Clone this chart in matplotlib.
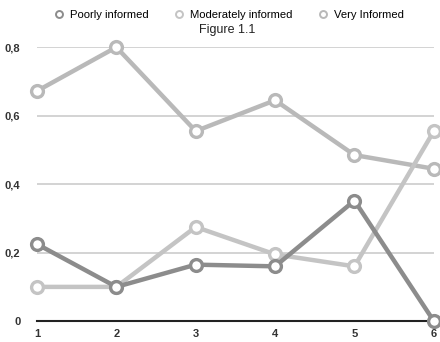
import matplotlib.pyplot as plt
from matplotlib.lines import Line2D

# data
x = [1, 2, 3, 4, 5, 6]
poorly = [0.225, 0.10, 0.165, 0.16, 0.352, 0.0]
moderately = [0.10, 0.10, 0.275, 0.195, 0.16, 0.555]
very = [0.672, 0.80, 0.555, 0.645, 0.485, 0.445]
labels = ["Poorly informed", "Moderately informed", "Very Informed"]
colors = ["#8c8c8c", "#c4c4c4", "#b9b9b9"]

plt.rcParams['font.family'] = ['Liberation Sans', 'DejaVu Sans']

fig = plt.figure(figsize=(4.4, 3.42), dpi=100)
ax = fig.add_axes([0.084, 0.061, 0.902, 0.801])

for vals, c in zip([very, moderately, poorly], [colors[2], colors[1], colors[0]]):
    ax.plot(x, vals, color=c, lw=3.2, marker="o", ms=8.5, mfc="white",
            mec=c, mew=2.4, clip_on=False, zorder=3)

ax.set_xlim(1, 6)
ax.set_ylim(0, 0.8)
ax.set_yticks([0, 0.2, 0.4, 0.6, 0.8])
ax.set_yticklabels(["0", "0,2", "0,4", "0,6", "0,8"])
ax.set_xticks(x)
ax.grid(axis="y", color="#cccccc", lw=1.2)
for s in ["top", "right", "left"]:
    ax.spines[s].set_visible(False)
ax.spines["bottom"].set_color("#222222")
ax.spines["bottom"].set_linewidth(1.5)
ax.spines["bottom"].set_zorder(2)
ax.tick_params(length=0, labelsize=8)
ax.tick_params(axis="y", pad=12)
ax.tick_params(axis="x", pad=6)
for t in ax.get_xticklabels() + ax.get_yticklabels():
    t.set_fontweight("bold")
    t.set_color("#333333")

handles = [Line2D([], [], ls="none", marker="o", ms=5, mfc="white", mec=c, mew=1.4)
           for c in colors]
fig.legend(handles, labels, loc="upper center", bbox_to_anchor=(0.52, 1.0),
           ncol=3, frameon=False, fontsize=8.1, handlelength=1.0,
           handletextpad=0.5, columnspacing=2.2)
fig.text(0.516, 0.912, "Figure 1.1", ha="center", va="center", fontsize=9,
         color="#222222")

fig.savefig("out.png", dpi=100)
